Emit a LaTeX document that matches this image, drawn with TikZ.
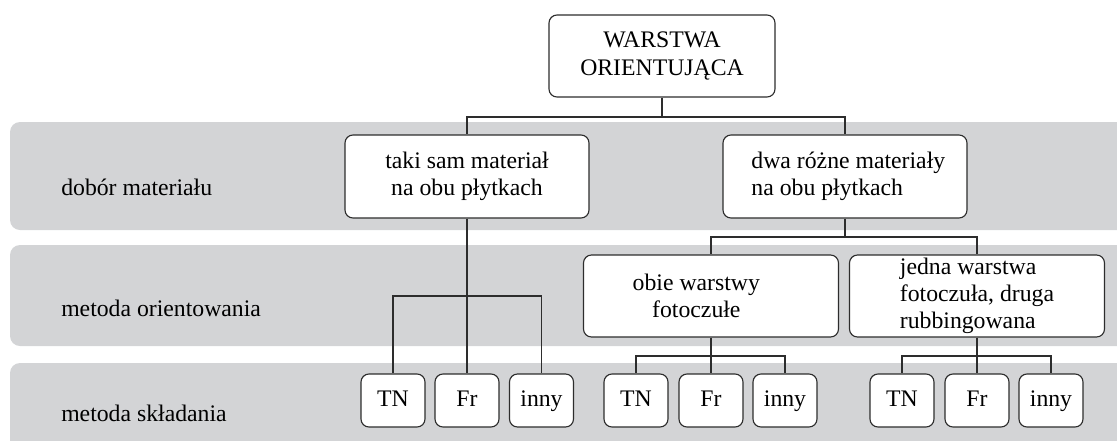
\documentclass[tikz,border=0pt]{standalone}
\usepackage{fontspec}
\setmainfont{Liberation Serif}
\definecolor{bandc}{RGB}{211,212,214}
\definecolor{linec}{RGB}{45,45,45}
\begin{document}
\begin{tikzpicture}[x=0.75pt,y=-0.75pt,
  every node/.style={font=\fontsize{17.8}{20.3}\selectfont, text=black},
  box/.style={draw=linec, line width=0.85pt, rounded corners=6pt, fill=white, inner sep=0pt},
  midbox/.style={box, minimum width=183pt, minimum height=62.25pt},
  wide/.style={box, minimum width=191.25pt, minimum height=61.5pt},
  leaf/.style={box, minimum width=48pt, minimum height=39.75pt, text height=12pt, text depth=3.75pt},
  wire/.style={draw=linec, line width=1.1pt},
  band/.style={fill=bandc, rounded corners=7.5pt},
  rowlabel/.style={anchor=west, inner sep=0pt}]
\useasboundingbox (0,0) rectangle (1117,440);

% grey row bands
\begin{scope}
  \clip (0,0) rectangle (1117,440);
  \fill[band] (10,122) rectangle (1140,230);
  \fill[band] (10,245) rectangle (1140,346);
  \fill[band] (10,363) rectangle (1140,470);
\end{scope}

% row captions
\node[rowlabel] (r1) at (61,187) {dobór materiału};
\node[rowlabel] (r2) at (61,308) {metoda orientowania};
\node[rowlabel] (r3) at (61,413) {metoda składania};

% tree nodes
\node[box, minimum width=169.5pt, minimum height=61.5pt, align=center] (top) at (662,56) {WARSTWA\\ORIENTUJĄCA};
\node[midbox, align=center] (taki) at (467,176.5) {taki sam materiał\\na obu płytkach};
\node[midbox, align=left] (dwa) at (845,176.5) {\hspace*{5pt}dwa różne materiały\\\hspace*{5pt}na obu płytkach};
\node[wide] (obie) at (711,296) {};
\node[align=center, xshift=-11pt] (obietxt) at (obie) {obie warstwy\\fotoczułe};
\node[wide, align=left] (jedna) at (977,296) {jedna warstwa\\fotoczuła, druga\\rubbingowana};

\node[leaf] (tn1) at (393,400.5) {TN};
\node[leaf] (fr1) at (467,400.5) {Fr};
\node[leaf] (in1) at (541.5,400.5) {inny};
\node[leaf] (tn2) at (636,400.5) {TN};
\node[leaf] (fr2) at (711,400.5) {Fr};
\node[leaf] (in2) at (785,400.5) {inny};
\node[leaf] (tn3) at (902,400.5) {TN};
\node[leaf] (fr3) at (977,400.5) {Fr};
\node[leaf] (in3) at (1051,400.5) {inny};

% junction points
\coordinate (j1) at (662,117);
\coordinate (j2) at (467,296);
\coordinate (j3) at (845,237);
\coordinate (j4) at (711,356);
\coordinate (j5) at (977,356);

% connectors
\draw[wire] (top.south) -- (j1) (j1) -| (taki.north) (j1) -| (dwa.north);
\draw[wire] (taki.south) -- (j2) -- (fr1.north) (j2) -| (tn1.north) (j2) -| (in1.north);
\draw[wire] (dwa.south) -- (j3) (j3) -| (obie.north) (j3) -| (jedna.north);
\draw[wire] (obie.south) -- (j4) -- (fr2.north) (j4) -| (tn2.north) (j4) -| (in2.north);
\draw[wire] (jedna.south) -- (j5) -- (fr3.north) (j5) -| (tn3.north) (j5) -| (in3.north);
\end{tikzpicture}
\end{document}
